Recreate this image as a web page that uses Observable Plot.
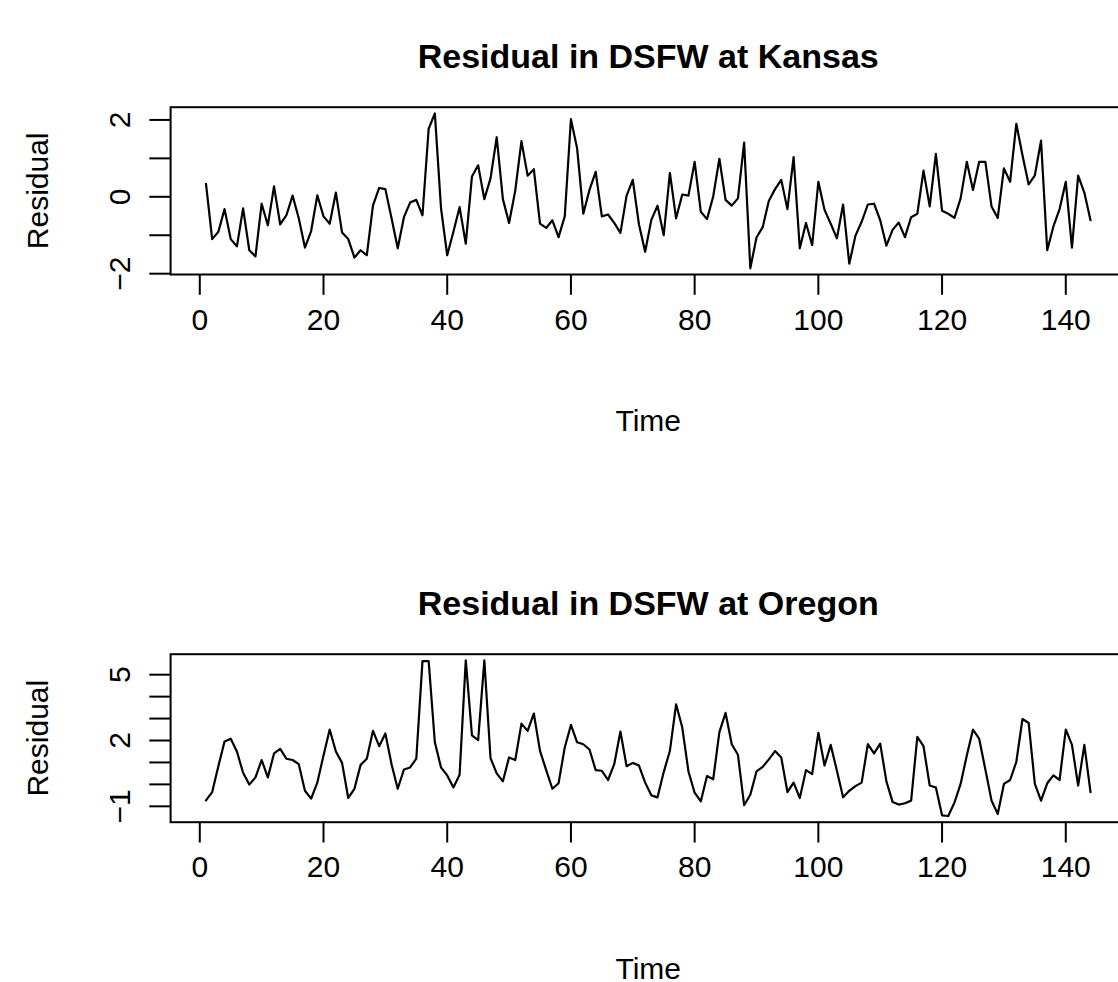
<!DOCTYPE html>
<html>
<head>
<meta charset="utf-8">
<script src="https://cdn.jsdelivr.net/npm/d3@7"></script>
<script src="https://cdn.jsdelivr.net/npm/@observablehq/plot@0.6"></script>
<style>
  html, body { margin: 0; padding: 0; background: #fff; overflow: hidden; width: 1118px; height: 982px; }
  #wrap { position: relative; width: 1118px; height: 982px; overflow: hidden; }
  #wrap svg { position: absolute; left: 0; overflow: hidden; max-width: none; }
</style>
</head>
<body>
<div id="wrap"></div>
<script>
const kansas = [0.34,-1.10,-0.91,-0.32,-1.10,-1.29,-0.30,-1.39,-1.55,-0.18,
-0.74,0.27,-0.72,-0.48,0.03,-0.56,-1.32,-0.89,0.04,-0.51,
-0.70,0.11,-0.93,-1.10,-1.58,-1.39,-1.52,-0.22,0.23,0.20,
-0.56,-1.34,-0.53,-0.15,-0.08,-0.48,1.77,2.17,-0.30,-1.52,
-0.91,-0.27,-1.22,0.53,0.82,-0.06,0.48,1.55,-0.06,-0.68,
0.16,1.45,0.55,0.72,-0.70,-0.81,-0.61,-1.05,-0.51,2.02,
1.26,-0.44,0.18,0.65,-0.51,-0.46,-0.68,-0.94,0.03,0.44,
-0.72,-1.43,-0.60,-0.23,-1.00,0.62,-0.56,0.06,0.03,0.91,
-0.39,-0.58,0.01,0.99,-0.08,-0.23,-0.04,1.41,-1.86,-1.06,
-0.79,-0.10,0.20,0.44,-0.32,1.03,-1.34,-0.68,-1.26,0.39,
-0.34,-0.70,-1.08,-0.20,-1.74,-1.01,-0.65,-0.20,-0.18,-0.61,
-1.27,-0.86,-0.67,-1.05,-0.53,-0.44,0.68,-0.25,1.12,-0.36,
-0.44,-0.55,-0.04,0.91,0.18,0.91,0.91,-0.25,-0.55,0.74,
0.39,1.90,1.08,0.32,0.56,1.46,-1.39,-0.77,-0.32,0.39,
-1.32,0.55,0.11,-0.61];

const oregon = [-0.73,-0.35,0.83,1.95,2.08,1.50,0.53,-0.01,0.32,1.11,
0.32,1.41,1.62,1.17,1.11,0.92,-0.29,-0.65,0.08,1.32,
2.50,1.50,0.98,-0.62,-0.20,0.89,1.17,2.44,1.74,2.32,
0.92,-0.20,0.68,0.77,1.17,5.62,5.62,1.92,0.77,0.41,
-0.14,0.44,5.65,2.23,2.02,5.65,1.20,0.50,0.14,1.23,
1.11,2.77,2.44,3.23,1.53,0.65,-0.20,0.05,1.68,2.71,
1.92,1.83,1.59,0.65,0.62,0.20,0.92,2.41,0.83,0.98,
0.86,0.08,-0.50,-0.59,0.56,1.53,3.65,2.59,0.59,-0.38,
-0.77,0.38,0.23,2.38,3.26,1.83,1.35,-0.95,-0.47,0.59,
0.80,1.14,1.52,1.23,-0.35,0.08,-0.62,0.65,0.47,2.35,
0.86,1.80,0.62,-0.59,-0.29,-0.08,0.08,1.83,1.41,1.86,
0.14,-0.80,-0.92,-0.86,-0.74,2.17,1.74,-0.05,-0.14,-1.41,
-1.44,-0.83,0.02,1.32,2.50,2.08,0.68,-0.74,-1.35,0.02,
0.20,1.02,2.98,2.80,0.02,-0.74,0.05,0.41,0.20,2.50,
1.80,-0.05,1.80,-0.35];

const xTicks = [0, 20, 40, 60, 80, 100, 120, 140];
const kansasYTicks = [-2, -1, 0, 1, 2];
const kansasYLabels = [-2, 0, 2];
const oregonYTicks = [-1, 0, 1, 2, 3, 4, 5];
const oregonYLabels = [-1, 2, 5];

const titles = ["Residual in DSFW at Kansas", "Residual in DSFW at Oregon"];
const xLabel = "Time";
const yLabel = "Residual";

const FONT = "'Liberation Sans', Arial, Helvetica, sans-serif";
const fmt = (v) => (v < 0 ? "\u2212" + Math.abs(v) : String(v));

function pad(ext) {
  const r = ext[1] - ext[0];
  return [ext[0] - 0.04 * r, ext[1] + 0.04 * r];
}

function panel(values, title, yTicks, yLabels, height, marginBottom) {
  const data = values.map((v, i) => ({t: i + 1, v}));
  const xd = pad([1, values.length]);
  const yd = pad(d3.extent(values));
  return Plot.plot({
    width: 1118,
    height,
    marginLeft: 170.1,
    marginRight: -7.4,
    marginTop: 106.7,
    marginBottom,
    style: {fontFamily: FONT, fontSize: "30px", color: "#000", background: "#fff"},
    x: {domain: xd, ticks: xTicks},
    y: {domain: yd},
    marks: [
      Plot.frame({stroke: "#000", strokeWidth: 2}),
      Plot.axisX({ticks: xTicks, tickSize: 20.8, tickPadding: 13, strokeWidth: 2, label: null, fontSize: 30, tickFormat: fmt}),
      Plot.axisY({ticks: yTicks, tickSize: 20.8, tickPadding: 20, tickRotate: -90, strokeWidth: 2, label: null, fontSize: 30,
        tickFormat: (d) => (yLabels.includes(d) ? fmt(d) : "")}),
      Plot.line(data, {x: "t", y: "v", stroke: "#000", strokeWidth: 2.2}),
      Plot.text([title], {frameAnchor: "top", dy: -49.7, fontSize: 34, fontWeight: "bold", fill: "#000", lineAnchor: "middle", textAnchor: "middle"}),
      Plot.text([xLabel], {frameAnchor: "bottom", dy: 147, fontSize: 30, fill: "#000", lineAnchor: "middle", textAnchor: "middle"}),
      Plot.text([yLabel], {frameAnchor: "left", dx: -132, rotate: -90, fontSize: 30, fill: "#000", lineAnchor: "middle", textAnchor: "middle"})
    ]
  });
}

const wrap = document.getElementById("wrap");
const p1 = panel(kansas, titles[0], kansasYTicks, kansasYLabels, 547, 547 - 274);
p1.style.top = "0px";
wrap.appendChild(p1);
const p2 = panel(oregon, titles[1], oregonYTicks, oregonYLabels, 435, 435 - 106.7 - 168);
p2.style.top = "547px";
wrap.appendChild(p2);
</script>
</body>
</html>
